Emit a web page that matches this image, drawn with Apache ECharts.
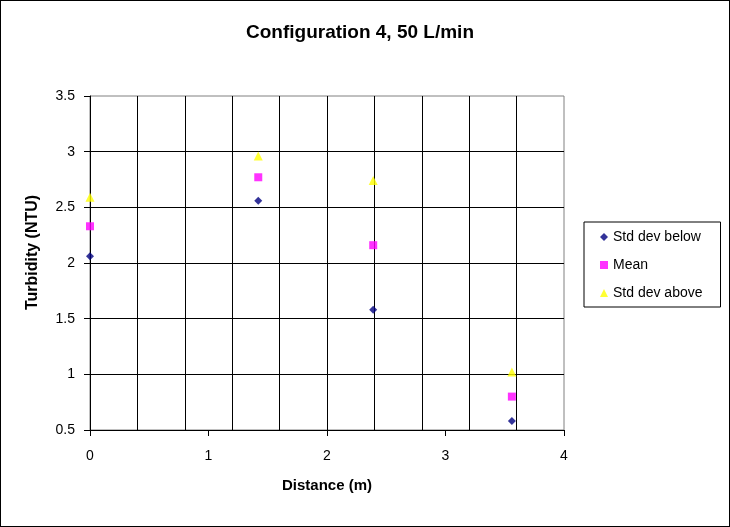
<!DOCTYPE html>
<html>
<head>
<meta charset="utf-8">
<script src="https://cdn.jsdelivr.net/npm/echarts@6/dist/echarts.min.js"></script>
<style>
html,body{margin:0;padding:0;background:#fff;}
#c{width:728px;height:525px;border:1px solid #000;}
</style>
</head>
<body>
<div id="c"></div>
<script>
var distance = [0, 1.42, 2.39, 3.56];
var stdBelow = [2.06, 2.56, 1.58, 0.58];
var meanVals = [2.33, 2.77, 2.16, 0.80];
var stdAbove = [2.59, 2.96, 2.74, 1.02];
var seriesNames = ['Std dev below', 'Mean', 'Std dev above'];

function pairs(ys){ return distance.map(function(x,i){ return [x, ys[i]]; }); }

var font = 'Liberation Sans, Arial, sans-serif';
var chart = echarts.init(document.getElementById('c'));
chart.setOption({
  animation: false,
  title: {
    text: 'Configuration 4, 50 L/min',
    left: 354, top: 17, textAlign: 'center',
    textStyle: {fontFamily: font, fontSize: 19, fontWeight: 'bold', color: '#000'}
  },
  grid: {left: 89, top: 95, width: 474, height: 334, show: true, borderColor: '#808080', borderWidth: 1, backgroundColor: 'transparent'},
  legend: {
    orient: 'vertical', left: 583, top: 221,
    data: seriesNames,
    itemWidth: 8, itemHeight: 8, itemGap: 14,
    padding: [8, 18, 7, 16],
    borderColor: '#000', borderWidth: 1,
    textStyle: {fontFamily: font, fontSize: 14, color: '#000'}
  },
  xAxis: [{
    type: 'value', min: 0, max: 4, interval: 1,
    name: 'Distance (m)', nameLocation: 'middle', nameGap: 48,
    nameTextStyle: {fontFamily: font, fontSize: 15, fontWeight: 'bold', color: '#000'},
    axisLine: {show: true, onZero: false, lineStyle: {color: '#000'}},
    axisTick: {show: true, length: 6, lineStyle: {color: '#000'}},
    axisLabel: {fontFamily: font, fontSize: 14, color: '#000', margin: 19},
    splitLine: {show: false}
  }, {
    type: 'value', min: 0, max: 4, interval: 0.4, position: 'bottom',
    axisLine: {show: false}, axisTick: {show: false}, axisLabel: {show: false},
    splitLine: {show: true, showMaxLine: false, lineStyle: {color: '#000', width: 1}}
  }],
  yAxis: {
    type: 'value', min: 0.5, max: 3.5, interval: 0.5,
    name: 'Turbidity (NTU)', nameLocation: 'middle', nameGap: 49,
    nameTextStyle: {fontFamily: font, fontSize: 16, fontWeight: 'bold', color: '#000', padding: [0, 0, 0, 21]},
    axisLine: {show: true, onZero: false, lineStyle: {color: '#000'}},
    axisTick: {show: true, length: 6, lineStyle: {color: '#000'}},
    axisLabel: {fontFamily: font, fontSize: 14, color: '#000', margin: 15},
    splitLine: {show: true, showMaxLine: false, lineStyle: {color: '#000', width: 1}}
  },
  series: [
    {name: seriesNames[0], type: 'scatter', xAxisIndex: 0, symbol: 'diamond', symbolSize: 8,
     itemStyle: {color: '#000080'}, data: pairs(stdBelow)},
    {name: seriesNames[1], type: 'scatter', xAxisIndex: 0, symbol: 'rect', symbolSize: 8,
     itemStyle: {color: '#FF00FF'}, data: pairs(meanVals)},
    {name: seriesNames[2], type: 'scatter', xAxisIndex: 0, symbol: 'triangle', symbolSize: 9,
     itemStyle: {color: '#FFFF00'}, data: pairs(stdAbove)}
  ]
});
</script>
</body>
</html>
